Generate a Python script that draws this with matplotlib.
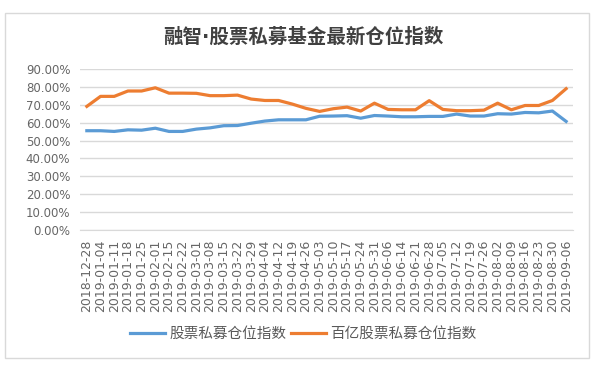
import matplotlib.pyplot as plt
from matplotlib.patches import Rectangle
from matplotlib.ticker import PercentFormatter

plt.rcParams['font.family'] = ['Noto Sans CJK SC', 'DejaVu Sans']

# weekly dates
dates = ["2018-12-28", "2019-01-04", "2019-01-11", "2019-01-18", "2019-01-25",
         "2019-02-01", "2019-02-15", "2019-02-22", "2019-03-01", "2019-03-08",
         "2019-03-15", "2019-03-22", "2019-03-29", "2019-04-04", "2019-04-12",
         "2019-04-19", "2019-04-26", "2019-05-03", "2019-05-10", "2019-05-17",
         "2019-05-24", "2019-05-31", "2019-06-06", "2019-06-14", "2019-06-21",
         "2019-06-28", "2019-07-05", "2019-07-12", "2019-07-19", "2019-07-26",
         "2019-08-02", "2019-08-09", "2019-08-16", "2019-08-23", "2019-08-30",
         "2019-09-06"]

# 股票私募仓位指数 (%)
all_funds = [55.5, 55.5, 55.1, 56.0, 55.8, 56.9, 55.1, 55.1, 56.4, 57.1,
             58.3, 58.4, 59.7, 60.9, 61.6, 61.6, 61.6, 63.6, 63.7, 63.9,
             62.5, 64.0, 63.7, 63.3, 63.3, 63.5, 63.5, 64.8, 63.7, 63.7,
             65.0, 64.8, 65.7, 65.5, 66.5, 60.7]

# 百亿股票私募仓位指数 (%)
big_funds = [69.1, 74.7, 74.7, 77.7, 77.7, 79.5, 76.5, 76.5, 76.4, 75.1,
             75.1, 75.4, 73.2, 72.4, 72.4, 70.4, 68.0, 66.3, 67.8, 68.7,
             66.5, 70.9, 67.4, 67.2, 67.2, 72.3, 67.4, 66.7, 66.7, 67.0,
             70.9, 67.2, 69.6, 69.6, 72.4, 79.0]

fig = plt.figure(figsize=(6.06, 3.68), dpi=100)
ax = fig.add_axes([0.132, 0.375, 0.8135, 0.4375])

x = range(len(dates))
ax.plot(x, all_funds, color='#5B9BD5', lw=2.3, label='股票私募仓位指数')
ax.plot(x, big_funds, color='#ED7D31', lw=2.3, label='百亿股票私募仓位指数')

ax.set_xlim(-0.5, len(dates) - 0.5)
ax.set_ylim(0, 90)
ax.set_yticks(range(0, 91, 10))
ax.yaxis.set_major_formatter(PercentFormatter(decimals=2))
ax.set_xticks(list(x))
ax.set_xticklabels(dates, rotation=90, family='DejaVu Sans')
ax.grid(axis='y', color='#d9d9d9', lw=1)
ax.set_axisbelow(True)
for s in ['top', 'right', 'left']:
    ax.spines[s].set_visible(False)
ax.spines['bottom'].set_color('#d9d9d9')
ax.tick_params(axis='both', length=0, colors='#666666')
ax.tick_params(axis='x', pad=7, labelsize=9)
ax.tick_params(axis='y', pad=7, labelsize=8.5)
for t in ax.get_yticklabels():
    t.set_family('DejaVu Sans')

fig.text(0.5, 0.9, '融智·股票私募基金最新仓位指数', ha='center', va='center',
         fontsize=14, fontweight='bold', color='#404040',
         family=['DejaVu Sans', 'Noto Sans CJK SC'])

fig.legend(loc='center', bbox_to_anchor=(0.5, 0.092), ncol=2, frameon=False,
           fontsize=10.5, handlelength=2.4, columnspacing=0.3, handletextpad=0.3,
           labelcolor='#595959')

fig.add_artist(Rectangle((5 / 606, 1 - 358 / 368), 584 / 606, 345 / 368,
                         transform=fig.transFigure, fill=False,
                         edgecolor='#d9d9d9', lw=1))

plt.savefig('out.png', dpi=100)
